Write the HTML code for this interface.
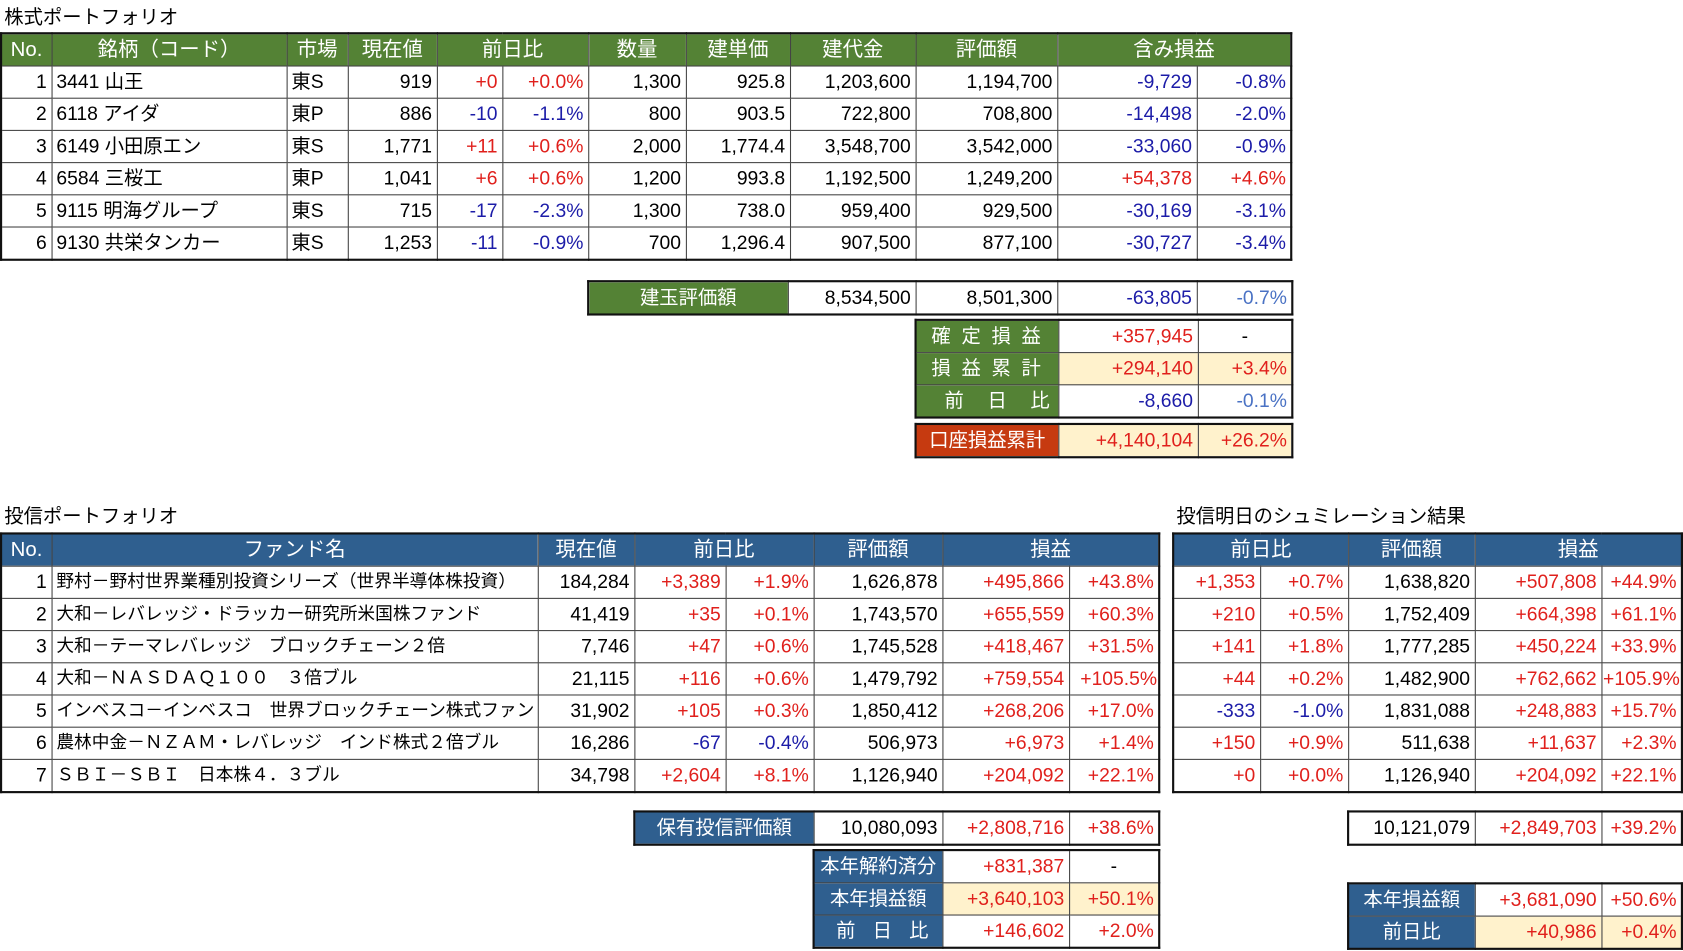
<!DOCTYPE html>
<html><head><meta charset="utf-8"><style>
body{margin:0;background:#fff;width:1683px;height:951px;overflow:hidden}
#w{position:absolute;left:0;top:0;width:1568px;height:886px;transform:scale(1.07334);transform-origin:0 0;font-family:"Liberation Sans","Noto Sans CJK JP",sans-serif;font-size:18px;color:#000}
table{position:absolute;border-collapse:collapse;table-layout:fixed}
td{border:1px solid #444;height:29px;padding:0 4px;white-space:nowrap;overflow:hidden;line-height:29px}
tr.h td{color:#fff;text-align:center;font-size:19px}
.g td.h,.g tr.h td{background:#548235}
.b tr.h td,td.bl{background:#2f5f8f;color:#fff;text-align:center}
td.gl{background:#548235;color:#fff;text-align:center}
td.rl{background:#c63a10;color:#fff;text-align:center}
.r{text-align:right}.c{text-align:center}
.red{color:#e0201c}.blu{color:#1c1ca8}.lb{color:#4a72c4}
.cr{background:#fff2cc}
table.o{border:2px solid #111}
.t{position:absolute;font-size:18px}
.sp{letter-spacing:10px;padding-left:12px}
.fn{font-size:16.5px}
</style></head><body><div id="w">
<div class="t" style="left:4px;top:2px">株式ポートフォリオ</div>
<table class="g o" style="left:0;top:30px;width:1203px">
<colgroup><col style="width:47px"><col style="width:219px"><col style="width:57px"><col style="width:83px"><col style="width:61px"><col style="width:80px"><col style="width:91px"><col style="width:97px"><col style="width:117px"><col style="width:132px"><col style="width:130px"><col style="width:88px"></colgroup>
<tr class="h"><td>No.</td><td>銘柄（コード）</td><td>市場</td><td>現在値</td><td colspan="2">前日比</td><td>数量</td><td>建単価</td><td>建代金</td><td>評価額</td><td colspan="2">含み損益</td></tr>
<tr><td class="r">1</td><td>3441 山王</td><td>東S</td><td class="r">919</td><td class="r red">+0</td><td class="r red">+0.0%</td><td class="r">1,300</td><td class="r">925.8</td><td class="r">1,203,600</td><td class="r">1,194,700</td><td class="r blu">-9,729</td><td class="r blu">-0.8%</td></tr>
<tr><td class="r">2</td><td>6118 アイダ</td><td>東P</td><td class="r">886</td><td class="r blu">-10</td><td class="r blu">-1.1%</td><td class="r">800</td><td class="r">903.5</td><td class="r">722,800</td><td class="r">708,800</td><td class="r blu">-14,498</td><td class="r blu">-2.0%</td></tr>
<tr><td class="r">3</td><td>6149 小田原エン</td><td>東S</td><td class="r">1,771</td><td class="r red">+11</td><td class="r red">+0.6%</td><td class="r">2,000</td><td class="r">1,774.4</td><td class="r">3,548,700</td><td class="r">3,542,000</td><td class="r blu">-33,060</td><td class="r blu">-0.9%</td></tr>
<tr><td class="r">4</td><td>6584 三桜工</td><td>東P</td><td class="r">1,041</td><td class="r red">+6</td><td class="r red">+0.6%</td><td class="r">1,200</td><td class="r">993.8</td><td class="r">1,192,500</td><td class="r">1,249,200</td><td class="r red">+54,378</td><td class="r red">+4.6%</td></tr>
<tr><td class="r">5</td><td>9115 明海グループ</td><td>東S</td><td class="r">715</td><td class="r blu">-17</td><td class="r blu">-2.3%</td><td class="r">1,300</td><td class="r">738.0</td><td class="r">959,400</td><td class="r">929,500</td><td class="r blu">-30,169</td><td class="r blu">-3.1%</td></tr>
<tr><td class="r">6</td><td>9130 共栄タンカー</td><td>東S</td><td class="r">1,253</td><td class="r blu">-11</td><td class="r blu">-0.9%</td><td class="r">700</td><td class="r">1,296.4</td><td class="r">907,500</td><td class="r">877,100</td><td class="r blu">-30,727</td><td class="r blu">-3.4%</td></tr>
</table>
<table class="o" style="left:547px;top:261px;width:656px">
<colgroup><col style="width:186px"><col style="width:119px"><col style="width:132px"><col style="width:130px"><col style="width:89px"></colgroup>
<tr><td class="gl">建玉評価額</td><td class="r">8,534,500</td><td class="r">8,501,300</td><td class="r blu">-63,805</td><td class="r lb">-0.7%</td></tr></table>
<table class="o" style="left:852px;top:297px;width:351px">
<colgroup><col style="width:133px"><col style="width:130px"><col style="width:88px"></colgroup>
<tr><td class="gl sp">確定損益</td><td class="r red">+357,945</td><td class="c">-</td></tr>
<tr><td class="gl sp">損益累計</td><td class="r red cr">+294,140</td><td class="r red cr">+3.4%</td></tr>
<tr><td class="gl" style="letter-spacing:22px;padding-left:26px">前日比</td><td class="r blu">-8,660</td><td class="r lb">-0.1%</td></tr></table>
<table class="o" style="left:852px;top:394px;width:351px">
<colgroup><col style="width:133px"><col style="width:130px"><col style="width:88px"></colgroup>
<tr><td class="rl">口座損益累計</td><td class="r red cr">+4,140,104</td><td class="r red cr">+26.2%</td></tr></table>

<div class="t" style="left:4px;top:467px">投信ポートフォリオ</div>
<div class="t" style="left:1096px;top:467px">投信明日のシュミレーション結果</div>
<table class="b o" style="left:0;top:496px;width:1079px">
<colgroup><col style="width:47px"><col style="width:453px"><col style="width:90px"><col style="width:85px"><col style="width:82px"><col style="width:120px"><col style="width:118px"><col style="width:84px"></colgroup>
<tr class="h"><td>No.</td><td>ファンド名</td><td>現在値</td><td colspan="2">前日比</td><td>評価額</td><td colspan="2">損益</td></tr>
<tr><td class="r">1</td><td class="fn">野村－野村世界業種別投資シリーズ（世界半導体株投資）</td><td class="r">184,284</td><td class="r red">+3,389</td><td class="r red">+1.9%</td><td class="r">1,626,878</td><td class="r red">+495,866</td><td class="r red">+43.8%</td></tr>
<tr><td class="r">2</td><td class="fn">大和－レバレッジ・ドラッカー研究所米国株ファンド</td><td class="r">41,419</td><td class="r red">+35</td><td class="r red">+0.1%</td><td class="r">1,743,570</td><td class="r red">+655,559</td><td class="r red">+60.3%</td></tr>
<tr><td class="r">3</td><td class="fn">大和－テーマレバレッジ　ブロックチェーン２倍</td><td class="r">7,746</td><td class="r red">+47</td><td class="r red">+0.6%</td><td class="r">1,745,528</td><td class="r red">+418,467</td><td class="r red">+31.5%</td></tr>
<tr><td class="r">4</td><td class="fn">大和－ＮＡＳＤＡＱ１００　３倍ブル</td><td class="r">21,115</td><td class="r red">+116</td><td class="r red">+0.6%</td><td class="r">1,479,792</td><td class="r red">+759,554</td><td class="r red" style="padding:0 1px">+105.5%</td></tr>
<tr><td class="r">5</td><td class="fn">インベスコ－インベスコ　世界ブロックチェーン株式ファンド</td><td class="r">31,902</td><td class="r red">+105</td><td class="r red">+0.3%</td><td class="r">1,850,412</td><td class="r red">+268,206</td><td class="r red">+17.0%</td></tr>
<tr><td class="r">6</td><td class="fn">農林中金－ＮＺＡＭ・レバレッジ　インド株式２倍ブル</td><td class="r">16,286</td><td class="r blu">-67</td><td class="r blu">-0.4%</td><td class="r">506,973</td><td class="r red">+6,973</td><td class="r red">+1.4%</td></tr>
<tr><td class="r">7</td><td class="fn">ＳＢＩ－ＳＢＩ　日本株４．３ブル</td><td class="r">34,798</td><td class="r red">+2,604</td><td class="r red">+8.1%</td><td class="r">1,126,940</td><td class="r red">+204,092</td><td class="r red">+22.1%</td></tr>
</table>
<table class="b o" style="left:1092px;top:496px;width:474px">
<colgroup><col style="width:81px"><col style="width:82px"><col style="width:118px"><col style="width:118px"><col style="width:75px"></colgroup>
<tr class="h"><td colspan="2">前日比</td><td>評価額</td><td colspan="2">損益</td></tr>
<tr><td class="r red">+1,353</td><td class="r red">+0.7%</td><td class="r">1,638,820</td><td class="r red">+507,808</td><td class="r red">+44.9%</td></tr>
<tr><td class="r red">+210</td><td class="r red">+0.5%</td><td class="r">1,752,409</td><td class="r red">+664,398</td><td class="r red">+61.1%</td></tr>
<tr><td class="r red">+141</td><td class="r red">+1.8%</td><td class="r">1,777,285</td><td class="r red">+450,224</td><td class="r red">+33.9%</td></tr>
<tr><td class="r red">+44</td><td class="r red">+0.2%</td><td class="r">1,482,900</td><td class="r red">+762,662</td><td class="r red" style="padding:0 1px">+105.9%</td></tr>
<tr><td class="r blu">-333</td><td class="r blu">-1.0%</td><td class="r">1,831,088</td><td class="r red">+248,883</td><td class="r red">+15.7%</td></tr>
<tr><td class="r red">+150</td><td class="r red">+0.9%</td><td class="r">511,638</td><td class="r red">+11,637</td><td class="r red">+2.3%</td></tr>
<tr><td class="r red">+0</td><td class="r red">+0.0%</td><td class="r">1,126,940</td><td class="r red">+204,092</td><td class="r red">+22.1%</td></tr>
</table>
<table class="o" style="left:590px;top:755px;width:489px">
<colgroup><col style="width:167px"><col style="width:120px"><col style="width:118px"><col style="width:84px"></colgroup>
<tr><td class="bl">保有投信評価額</td><td class="r">10,080,093</td><td class="r red">+2,808,716</td><td class="r red">+38.6%</td></tr></table>
<table class="o" style="left:1255px;top:755px;width:311px">
<colgroup><col style="width:118px"><col style="width:118px"><col style="width:75px"></colgroup>
<tr><td class="r">10,121,079</td><td class="r red">+2,849,703</td><td class="r red">+39.2%</td></tr></table>
<table class="o" style="left:757px;top:791px;width:322px">
<colgroup><col style="width:120px"><col style="width:118px"><col style="width:84px"></colgroup>
<tr><td class="bl" style="padding:0 1px">本年解約済分</td><td class="r red">+831,387</td><td class="c">-</td></tr>
<tr><td class="bl">本年損益額</td><td class="r red cr">+3,640,103</td><td class="r red cr">+50.1%</td></tr>
<tr><td class="bl" style="letter-spacing:16px;padding-left:20px">前日比</td><td class="r red">+146,602</td><td class="r red">+2.0%</td></tr></table>
<table class="o" style="left:1255px;top:822px;width:311px">
<colgroup><col style="width:118px"><col style="width:118px"><col style="width:75px"></colgroup>
<tr><td class="bl">本年損益額</td><td class="r red">+3,681,090</td><td class="r red">+50.6%</td></tr>
<tr><td class="bl">前日比</td><td class="r red cr">+40,986</td><td class="r red cr">+0.4%</td></tr></table>
</div></body></html>
